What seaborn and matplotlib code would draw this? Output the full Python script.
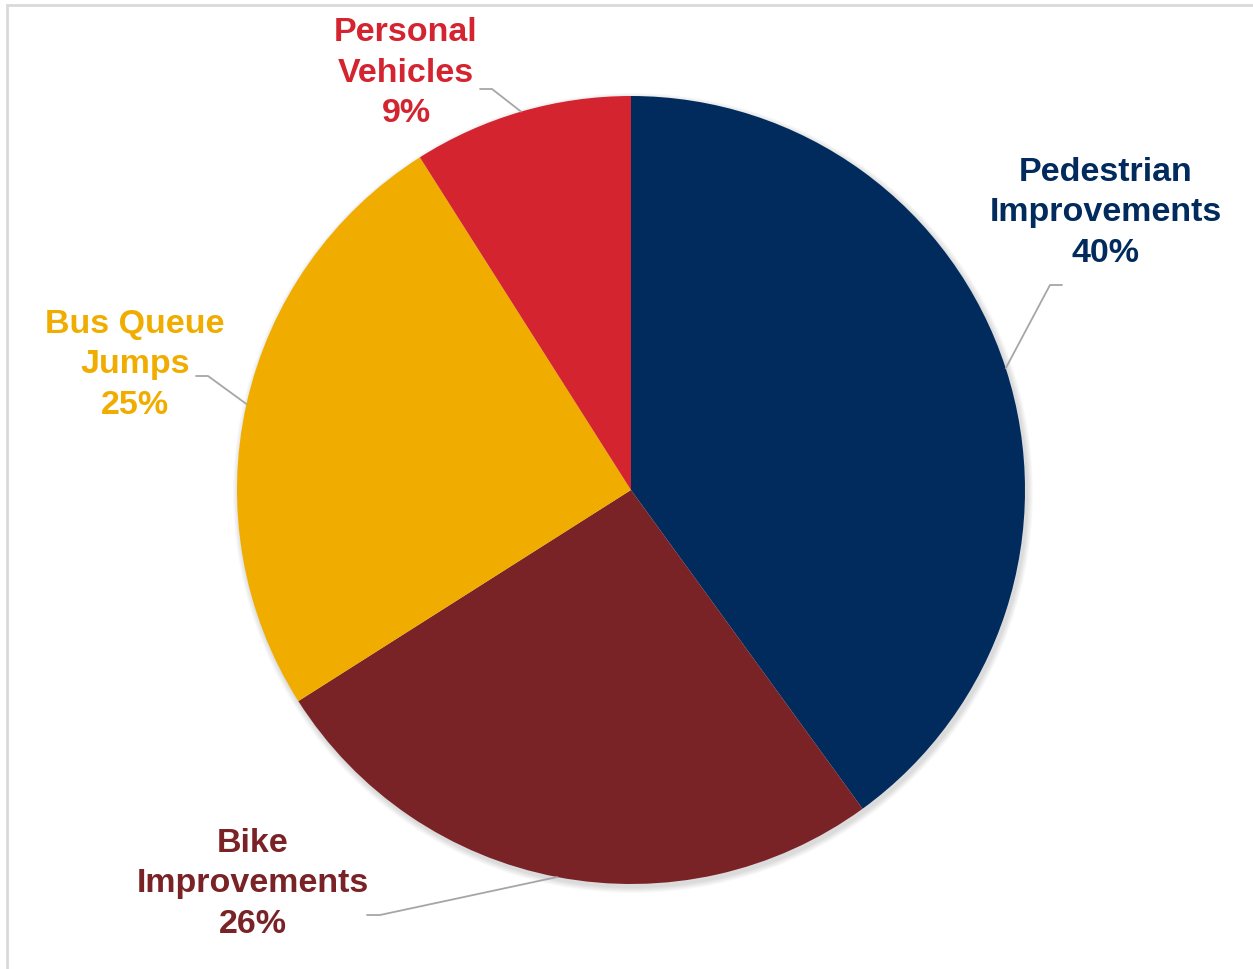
import numpy as np
import matplotlib
matplotlib.use("Agg")
import matplotlib.pyplot as plt
import seaborn as sns
from matplotlib.patches import Circle, Rectangle

# 데이터
labels = ["Pedestrian\nImprovements", "Bike\nImprovements", "Bus Queue\nJumps", "Personal\nVehicles"]
shares = [40, 26, 25, 9]
colors = ["#002B5C", "#7A2327", "#F0AD00", "#D32430"]

# 라벨 위치 (픽셀, 위에서부터)
label_xy = [(1106, 213), (253, 884), (135, 365), (406, 73)]
# 꺾이는 점, 수평선 끝
elbow_xy = [(1050, 286), (380, 916), (208, 377), (492, 90)]
tail_xy = [(1062, 286), (367, 916), (196, 377), (480, 90)]

sns.set_theme(style="white")
plt.rcParams['font.family'] = ['Liberation Sans', 'DejaVu Sans']
pal = sns.color_palette(colors)

W, H = 1253, 970
fig = plt.figure(figsize=(W / 100, H / 100), dpi=100)
ax = fig.add_axes([0, 0, 1, 1])

cx, cy, r = 631, H - 491, 394

# 바깥 테두리
ax.add_patch(Rectangle((7, -10), W + 20, H - 6 + 10, fill=False, ec="#D9D9D9", lw=2))

# 그림자 흉내
for k in range(6):
    ax.add_patch(Circle((cx + 2, cy - 3), r + 1 + k, color="black", alpha=0.025, lw=0, zorder=1))

wedges, _ = ax.pie(shares, colors=pal, startangle=90, counterclock=False,
                   center=(cx, cy), radius=r, wedgeprops=dict(linewidth=0),
                   frame=True)
for w in wedges:
    w.set_zorder(2)
ax.set_xlim(0, W)
ax.set_ylim(0, H)
ax.set_aspect("equal")
ax.axis("off")

for w, lab, s, c, (lx, ly), (ex, ey), (tx, ty) in zip(wedges, labels, shares, colors, label_xy, elbow_xy, tail_xy):
    mid = np.deg2rad((w.theta1 + w.theta2) / 2)
    px, py = cx + r * np.cos(mid), cy + r * np.sin(mid)
    ax.plot([px, ex, tx], [py, H - ey, H - ty], color="#A6A6A6", lw=1.3, zorder=3)
    ax.text(lx, H - ly, f"{lab}\n{s}%", color=c, fontsize=24.5, fontweight="bold",
            ha="center", va="center", linespacing=1.38, zorder=4)

fig.savefig("out.png", dpi=100)
